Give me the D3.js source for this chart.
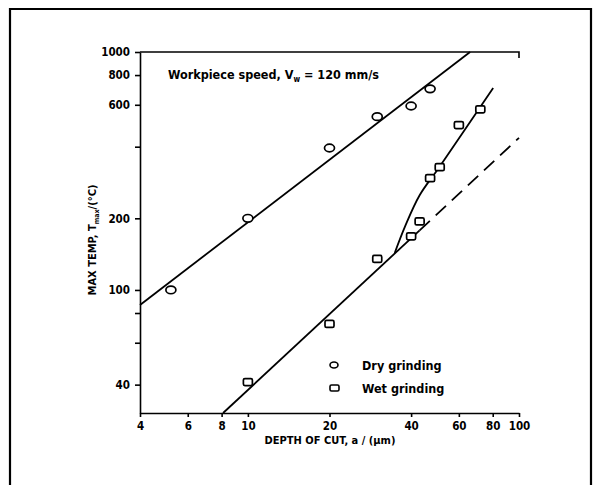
<!DOCTYPE html>
<meta charset="utf-8">
<script src="https://d3js.org/d3.v7.min.js"></script>
<style>
  body { margin: 0; background: #fff; }
  svg text { font-family: "DejaVu Sans Condensed", "DejaVu Sans", sans-serif; font-weight: bold; font-stretch: condensed; fill: #000; }
  .tick text { font-size: 11.5px; }
  .axis path, .axis line { stroke: #000; stroke-width: 1.6; }
</style>
<div id="chart"></div>
<script>
  // ---- data ----
  var xTicks = [4, 6, 8, 10, 20, 40, 60, 80, 100];
  var yTicks = [40, 60, 80, 100, 200, 400, 600, 800, 1000];
  var yLabels = [40, 100, 200, 600, 800, 1000];

  // dry grinding (circles)
  var dryDepth = [5.2, 10, 20, 30, 40, 47];
  var dryTemp  = [100, 200, 395, 535, 593, 700];

  // wet grinding (squares)
  var wetDepth = [10, 20, 30, 40, 43, 47, 51, 60, 72];
  var wetTemp  = [41, 72, 135, 168, 194, 295, 328, 493, 574];

  // fitted lines
  var dryFit      = [[4, 86.5], [66, 1000]];
  var wetFit      = [[8.1, 30.4], [43, 178]];
  var wetFitDash  = [[43, 178], [100, 436]];
  var wetCurve    = [[34.8, 143], [38, 185], [43, 250], [50.8, 328], [80.3, 706]];

  var W = 600, H = 485;
  var svg = d3.select("#chart").append("svg").attr("width", W).attr("height", H);

  // outer frame (bottom runs off the picture)
  svg.append("path")
    .attr("d", "M10,492 L10,9 L591,9 L591,492")
    .attr("fill", "none").attr("stroke", "#000").attr("stroke-width", 2.2);

  var x = d3.scaleLog().domain([4, 100]).range([140, 519]);
  var y = d3.scaleLog().domain([30.4, 1000]).range([413, 52]);

  // axes
  svg.append("g").attr("class", "axis")
    .attr("transform", "translate(0,413)")
    .call(d3.axisBottom(x).tickValues(xTicks).tickFormat(d3.format("d")).tickSize(4).tickSizeOuter(0).tickPadding(5));

  svg.append("g").attr("class", "axis")
    .attr("transform", "translate(140,0)")
    .call(d3.axisLeft(y).tickValues(yTicks)
      .tickFormat(function(d){ return yLabels.indexOf(d) >= 0 ? d : ""; })
      .tickSize(5).tickSizeOuter(0).tickPadding(5));

  // top border with a short hook at the right end
  svg.append("path")
    .attr("d", "M" + x(4) + "," + y(1000) + " L" + x(100) + "," + y(1000) + " l0,6")
    .attr("fill", "none").attr("stroke", "#000").attr("stroke-width", 1.6);

  var line = d3.line().x(function(d){ return x(d[0]); }).y(function(d){ return y(d[1]); });

  svg.append("path").datum(dryFit).attr("d", line)
    .attr("fill", "none").attr("stroke", "#000").attr("stroke-width", 1.8);
  svg.append("path").datum(wetFit).attr("d", line)
    .attr("fill", "none").attr("stroke", "#000").attr("stroke-width", 1.8);
  svg.append("path").datum(wetFitDash).attr("d", line)
    .attr("fill", "none").attr("stroke", "#000").attr("stroke-width", 1.8)
    .attr("stroke-dasharray", "14,8");
  svg.append("path").datum(wetCurve).attr("d", line.curve(d3.curveCatmullRom))
    .attr("fill", "none").attr("stroke", "#000").attr("stroke-width", 1.8);

  // markers
  svg.selectAll(".dry").data(dryDepth).enter().append("ellipse")
    .attr("cx", function(d){ return x(d); })
    .attr("cy", function(d, i){ return y(dryTemp[i]); })
    .attr("rx", 5).attr("ry", 3.8)
    .attr("fill", "#fff").attr("stroke", "#000").attr("stroke-width", 1.7);

  svg.selectAll(".wet").data(wetDepth).enter().append("rect")
    .attr("x", function(d){ return x(d) - 4.5; })
    .attr("y", function(d, i){ return y(wetTemp[i]) - 3.5; })
    .attr("width", 9).attr("height", 7).attr("rx", 1.5)
    .attr("fill", "#fff").attr("stroke", "#000").attr("stroke-width", 1.7);

  // annotation
  var ann = svg.append("text").attr("x", 168).attr("y", 79).style("font-size", "12.5px");
  ann.append("tspan").text("Workpiece speed, V");
  ann.append("tspan").attr("dy", 3).style("font-size", "8px").text("w");
  ann.append("tspan").attr("dy", -3).text(" = 120 mm/s");

  // legend
  svg.append("ellipse").attr("cx", 334).attr("cy", 365).attr("rx", 4).attr("ry", 3)
    .attr("fill", "#fff").attr("stroke", "#000").attr("stroke-width", 1.6);
  svg.append("text").attr("x", 362).attr("y", 370).style("font-size", "12.5px").text("Dry grinding");
  svg.append("rect").attr("x", 330).attr("y", 385).attr("width", 9).attr("height", 6).attr("rx", 1.5)
    .attr("fill", "#fff").attr("stroke", "#000").attr("stroke-width", 1.6);
  svg.append("text").attr("x", 362).attr("y", 393).style("font-size", "12.5px").text("Wet grinding");

  // axis titles
  svg.append("text").attr("x", 330).attr("y", 444).attr("text-anchor", "middle")
    .style("font-size", "11px").text("DEPTH OF CUT, a / (\u00b5m)");

  var yt = svg.append("text").attr("transform", "translate(96,240) rotate(-90)")
    .attr("text-anchor", "middle").style("font-size", "11px");
  yt.append("tspan").text("MAX TEMP, T");
  yt.append("tspan").attr("dy", 3).style("font-size", "7px").text("max");
  yt.append("tspan").attr("dy", -3).text("/(\u00b0C)");
</script>
